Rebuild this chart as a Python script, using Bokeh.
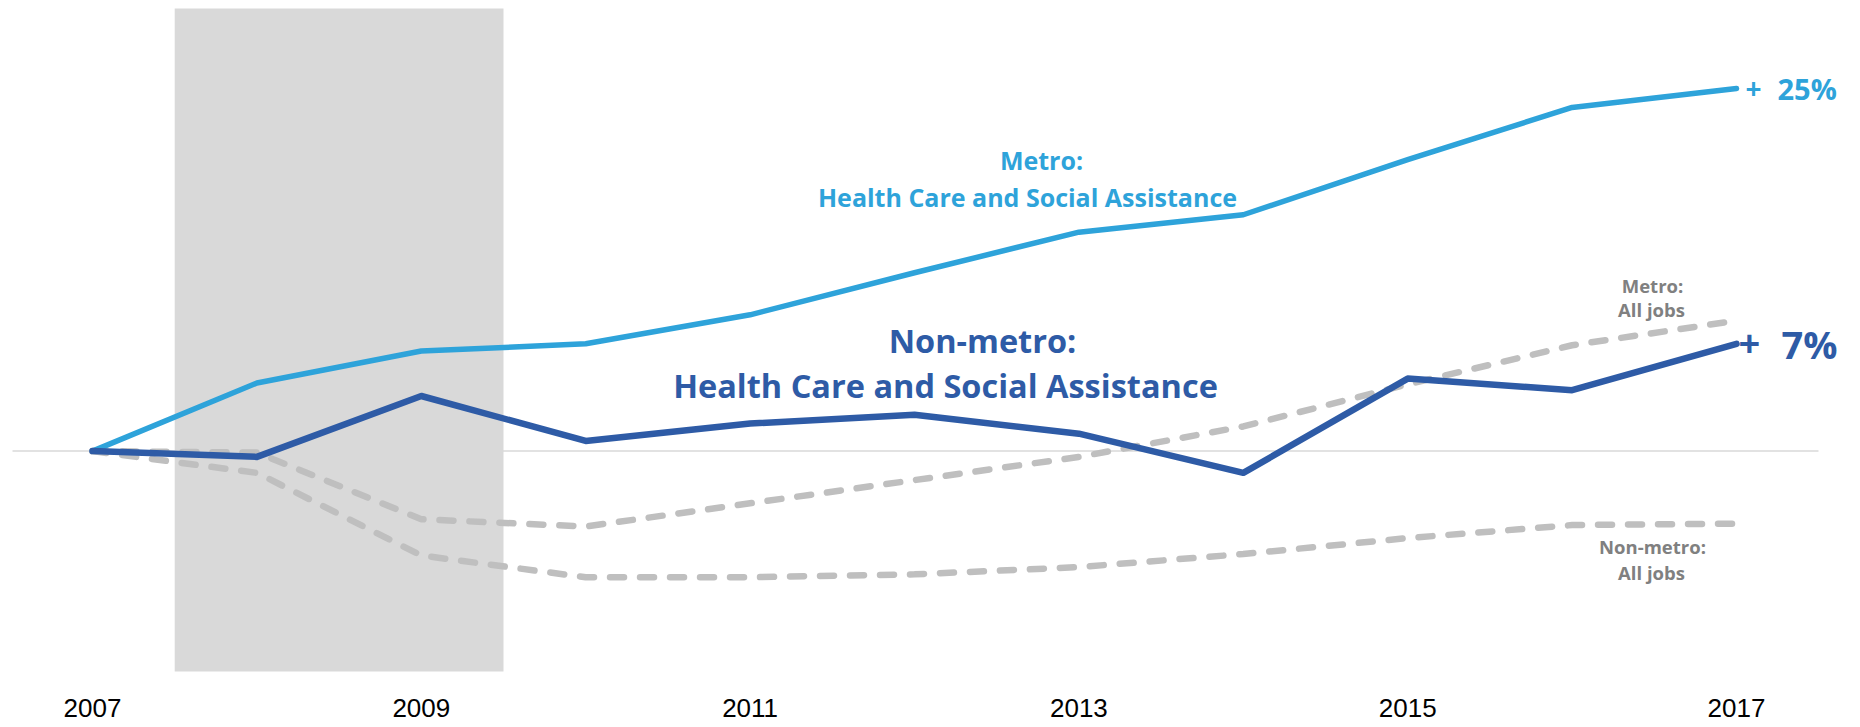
from bokeh.plotting import figure
from bokeh.models import FixedTicker, Range1d
from bokeh.core.properties import value
from bokeh.embed import file_html
from bokeh.resources import INLINE

years = [2007, 2008, 2009, 2010, 2011, 2012, 2013, 2014, 2015, 2016, 2017]
metro_hc = [0, 4.7, 6.9, 7.4, 9.4, 12.3, 15.1, 16.3, 20.1, 23.7, 25.0]
nonmetro_hc = [0, -0.4, 3.8, 0.7, 1.9, 2.5, 1.2, -1.5, 5.0, 4.2, 7.4]
metro_all = [0, -0.1, -4.7, -5.2, -3.6, -2.0, -0.4, 1.7, 4.6, 7.3, 9.0]
nonmetro_all = [0, -1.5, -7.2, -8.7, -8.7, -8.5, -8.0, -7.1, -6.0, -5.1, -5.0]
recession = [2007.5, 2009.5]
tick_years = [2007, 2009, 2011, 2013, 2015, 2017]

LIGHT = "#2ea3da"
DARK = "#2e5ba6"
GRAY = "#bfbfbf"
GTEXT = "#808080"
FONT = value("Open Sans")

# pixel geometry helpers (for annotation placement)
PX0, PXS = 92.0, 164.4   # x pixel of 2007, pixels per year
PY0, PYS = 450.6, 14.5   # y pixel of zero, pixels per percent
BOTTOM = 46
FRAME_H = 727 - BOTTOM


def dx(px):
    return 2007 + (px - PX0) / PXS


def dy(py):
    return (PY0 - py) / PYS


p = figure(width=1860, height=727, output_backend="svg", toolbar_location=None,
           min_border_left=0, min_border_right=0, min_border_top=0, min_border_bottom=BOTTOM,
           x_range=Range1d(dx(0), dx(1860)), y_range=Range1d(dy(FRAME_H), dy(0)))
p.outline_line_color = None
p.xgrid.visible = False
p.ygrid.visible = False
p.yaxis.visible = False
p.background_fill_color = "white"
p.border_fill_color = "white"

xa = p.xaxis[0]
xa.ticker = FixedTicker(ticks=tick_years)
xa.axis_line_color = None
xa.major_tick_line_color = None
xa.minor_tick_line_color = None
xa.major_tick_out = 0
xa.major_label_standoff = 17
xa.major_label_text_font = "Liberation Sans"
xa.major_label_text_font_size = "26px"
xa.major_label_text_color = "black"

# recession shading
p.quad(left=[recession[0]], right=[recession[1]], top=[dy(8)], bottom=[dy(671)],
       fill_color="#d9d9d9", line_color=None)

# zero line
p.segment(x0=[dx(12)], x1=[dx(1818)], y0=[0], y1=[0], line_color="#d9d9d9", line_width=1.5)

# all jobs (dashed)
p.line(years, metro_all, line_color=GRAY, line_width=6.5, line_dash="14 16", line_cap="round")
p.line(years, nonmetro_all, line_color=GRAY, line_width=6.5, line_dash="14 16", line_cap="round")

# health care lines
p.line(years, metro_hc, line_color=LIGHT, line_width=5.5, line_cap="round", line_join="round")
p.line(years, nonmetro_hc, line_color=DARK, line_width=6.5, line_cap="round", line_join="round")

# labels
p.text(x=[dx(1041)], y=[dy(159)], text=["Metro:"], text_font=FONT, text_font_style="bold",
       text_font_size="25px", text_color=LIGHT, text_align="center", text_baseline="middle")
p.text(x=[dx(1027)], y=[dy(196)], text=["Health Care and Social Assistance"], text_font=FONT,
       text_font_style="bold", text_font_size="25px", text_color=LIGHT, text_align="center",
       text_baseline="middle")
p.text(x=[dx(982)], y=[dy(340)], text=["Non-metro:"], text_font=FONT, text_font_style="bold",
       text_font_size="32.5px", text_color=DARK, text_align="center", text_baseline="middle")
p.text(x=[dx(945)], y=[dy(385)], text=["Health Care and Social Assistance"], text_font=FONT,
       text_font_style="bold", text_font_size="32.5px", text_color=DARK, text_align="center",
       text_baseline="middle")

p.text(x=[dx(1652)], y=[dy(285)], text=["Metro:"], text_font=FONT, text_font_style="bold",
       text_font_size="18.5px", text_color=GTEXT, text_align="center", text_baseline="middle")
p.text(x=[dx(1651)], y=[dy(309)], text=["All jobs"], text_font=FONT, text_font_style="bold",
       text_font_size="18.5px", text_color=GTEXT, text_align="center", text_baseline="middle")
p.text(x=[dx(1652)], y=[dy(546)], text=["Non-metro:"], text_font=FONT, text_font_style="bold",
       text_font_size="18.5px", text_color=GTEXT, text_align="center", text_baseline="middle")
p.text(x=[dx(1651)], y=[dy(572)], text=["All jobs"], text_font=FONT, text_font_style="bold",
       text_font_size="18.5px", text_color=GTEXT, text_align="center", text_baseline="middle")

# end labels anchored to last values
p.text(x=[years[-1]], y=[metro_hc[-1]], text=["+"], x_offset=9, text_font=FONT,
       text_font_style="bold", text_font_size="28px", text_color=LIGHT, text_align="left",
       text_baseline="middle")
p.text(x=[years[-1]], y=[metro_hc[-1]], text=["25%"], x_offset=41, text_font=FONT,
       text_font_style="bold", text_font_size="29px", text_color=LIGHT, text_align="left",
       text_baseline="middle")
p.text(x=[years[-1]], y=[nonmetro_hc[-1]], text=["+"], x_offset=2, text_font=FONT,
       text_font_style="bold", text_font_size="38px", text_color=DARK, text_align="left",
       text_baseline="middle")
p.text(x=[years[-1]], y=[nonmetro_hc[-1]], text=["7%"], x_offset=45, text_font=FONT,
       text_font_style="bold", text_font_size="38px", text_color=DARK, text_align="left",
       text_baseline="middle")

open("out.html", "w").write(file_html(p, INLINE))
